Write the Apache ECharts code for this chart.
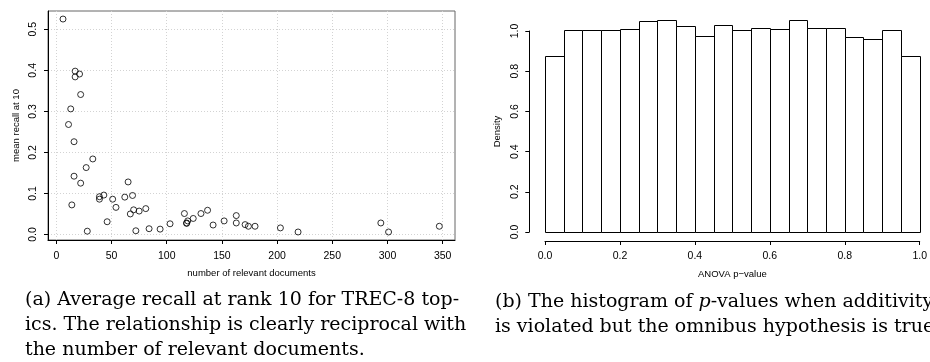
<!DOCTYPE html>
<html>
<head>
<meta charset="utf-8">
<script src="https://cdn.jsdelivr.net/npm/echarts@6/dist/echarts.min.js"></script>
<style>
html, body { margin: 0; padding: 0; background: #fff; }
#main { width: 930px; height: 362px; }
</style>
</head>
<body>
<div id="main"></div>
<script>
// (a) one point per TREC-8 topic
var numRelevant = [6, 17, 21, 17, 22, 13, 11, 16, 33, 27, 16, 22, 65, 39, 39, 43, 51, 54, 62, 69,
    70, 67, 75, 81, 14, 46, 28, 72, 84, 94, 103, 116, 118, 119, 118, 124, 131, 137, 142, 152,
    163, 163, 171, 174, 180, 203, 219, 294, 301, 347];
var meanRecall = [0.525, 0.398, 0.391, 0.384, 0.341, 0.306, 0.268, 0.226, 0.184, 0.163, 0.142, 0.125, 0.128, 0.092, 0.086, 0.096, 0.086, 0.066, 0.091, 0.095,
    0.060, 0.050, 0.057, 0.063, 0.072, 0.031, 0.008, 0.009, 0.014, 0.013, 0.026, 0.051, 0.028, 0.033, 0.027, 0.039, 0.051, 0.059, 0.023, 0.033,
    0.046, 0.028, 0.024, 0.020, 0.020, 0.016, 0.006, 0.028, 0.006, 0.020];
var scatterXTicks = [0, 50, 100, 150, 200, 250, 300, 350];
var scatterYTicks = [0, 0.1, 0.2, 0.3, 0.4, 0.5];

// (b) histogram of ANOVA p-values
var binStarts = [0, 0.05, 0.1, 0.15, 0.2, 0.25, 0.3, 0.35, 0.4, 0.45,
    0.5, 0.55, 0.6, 0.65, 0.7, 0.75, 0.8, 0.85, 0.9, 0.95];
var binWidth = 0.05;
var density = [0.874, 1.006, 1.006, 1.006, 1.010, 1.048, 1.056, 1.026, 0.975, 1.031,
    1.006, 1.016, 1.008, 1.053, 1.016, 1.016, 0.969, 0.962, 1.005, 0.877];

var sans = '"Liberation Sans", Arial, sans-serif';
var serif = '"DejaVu Serif", serif';
var capSize = 19;

var points = numRelevant.map(function (n, i) { return [n, meanRecall[i]]; });
var bins = binStarts.map(function (b, i) { return [b, density[i]]; });

function fmt1(v) { return v.toFixed(1); }

function caption(x, y, text, rich) {
    var style = { text: text, fontFamily: serif, fontSize: capSize, fill: '#000', verticalAlign: 'middle' };
    if (rich) style.rich = rich;
    return { type: 'text', x: x, y: y, style: style };
}

var myChart = echarts.init(document.getElementById('main'));
myChart.setOption({
    animation: false,
    backgroundColor: '#fff',
    grid: [
        { left: 48, top: 11, width: 407, height: 229, show: true, borderColor: '#666', borderWidth: 1 },
        { left: 545, top: 31, width: 376.3, height: 201 }
    ],
    xAxis: [
        {
            gridIndex: 0, type: 'value', min: -7.6, max: 361.2,
            name: 'number of relevant documents', nameLocation: 'middle', nameGap: 28,
            nameTextStyle: { fontFamily: sans, fontSize: 9.5, color: '#000' },
            axisLine: { show: true, onZero: false, lineStyle: { color: '#000', width: 1 } },
            axisTick: { show: true, length: 4, customValues: scatterXTicks, lineStyle: { color: '#000' } },
            axisLabel: { customValues: scatterXTicks, fontFamily: sans, fontSize: 10.5, color: '#000', margin: 10.5 },
            splitLine: { show: true, lineStyle: { color: '#d3d3d3', type: [1, 2] } }
        },
        {
            gridIndex: 1, type: 'value', min: 0, max: 1, interval: 0.2, offset: 9,
            name: 'ANOVA p\u2212value', nameLocation: 'middle', nameGap: 28.5,
            nameTextStyle: { fontFamily: sans, fontSize: 9.5, color: '#000' },
            axisLine: { show: true, onZero: false, lineStyle: { color: '#000', width: 1 } },
            axisTick: { show: true, length: 4, lineStyle: { color: '#000' } },
            axisLabel: { fontFamily: sans, fontSize: 10.5, color: '#000', margin: 9.5, formatter: fmt1 },
            splitLine: { show: false }
        }
    ],
    yAxis: [
        {
            gridIndex: 0, type: 'value', min: -0.0135, max: 0.5446,
            name: 'mean recall at 10', nameLocation: 'middle', nameGap: 27,
            nameTextStyle: { fontFamily: sans, fontSize: 9.5, color: '#000' },
            axisLine: { show: true, onZero: false, lineStyle: { color: '#000', width: 1 } },
            axisTick: { show: true, length: 4, customValues: scatterYTicks, lineStyle: { color: '#000' } },
            axisLabel: { customValues: scatterYTicks, rotate: 90, fontFamily: sans, fontSize: 10.5, color: '#000', margin: 9, formatter: fmt1 },
            splitLine: { show: true, lineStyle: { color: '#d3d3d3', type: [1, 2] } }
        },
        {
            gridIndex: 1, type: 'value', min: 0, max: 1, interval: 0.2, offset: 15.7,
            name: 'Density', nameLocation: 'middle', nameGap: 27,
            nameTextStyle: { fontFamily: sans, fontSize: 9.5, color: '#000' },
            axisLine: { show: true, onZero: false, lineStyle: { color: '#000', width: 1 } },
            axisTick: { show: true, length: 4, lineStyle: { color: '#000' } },
            axisLabel: { rotate: 90, fontFamily: sans, fontSize: 10.5, color: '#000', margin: 9, formatter: fmt1 },
            splitLine: { show: false }
        }
    ],
    series: [
        {
            type: 'scatter', xAxisIndex: 0, yAxisIndex: 0,
            symbol: 'circle', symbolSize: 6,
            itemStyle: { color: 'rgba(0,0,0,0)', borderColor: '#000', borderWidth: 1 },
            data: points
        },
        {
            type: 'custom', xAxisIndex: 1, yAxisIndex: 1, clip: false,
            renderItem: function (params, api) {
                var x0 = api.value(0), h = api.value(1);
                var p0 = api.coord([x0, 0]);
                var p1 = api.coord([x0 + binWidth, h]);
                var left = Math.round(p0[0]) + 0.5, right = Math.round(p1[0]) + 0.5;
                var top = Math.round(p1[1]) + 0.5, bottom = Math.round(p0[1]) + 0.5;
                return {
                    type: 'rect',
                    shape: { x: left, y: top, width: right - left, height: bottom - top },
                    style: { fill: '#fff', stroke: '#000', lineWidth: 1 }
                };
            },
            data: bins
        }
    ],
    graphic: [
        caption(25, 300, '(a) Average recall at rank 10 for TREC-8 top-'),
        caption(25, 325, 'ics. The relationship is clearly reciprocal with'),
        caption(25, 350, 'the number of relevant documents.'),
        caption(495, 302, '(b) The histogram of {i|p}-values when additivity',
            { i: { fontFamily: serif, fontSize: capSize, fontStyle: 'italic', fill: '#000' } }),
        caption(495, 327, 'is violated but the omnibus hypothesis is true.')
    ]
});
</script>
</body>
</html>
